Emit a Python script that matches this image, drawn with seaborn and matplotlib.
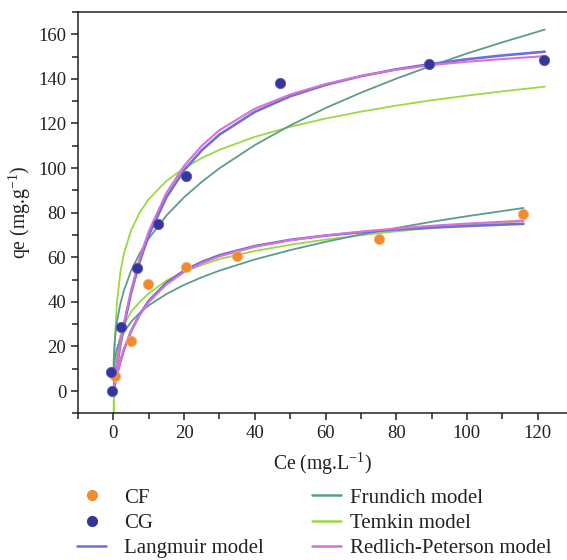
import numpy as np
import pandas as pd
import matplotlib
matplotlib.use('Agg')
import matplotlib.pyplot as plt
import seaborn as sns
from matplotlib.lines import Line2D
from matplotlib.ticker import MultipleLocator

# ---- experimental points ----
cf_ce = [0.5, 5.0, 9.7, 20.5, 34.9, 75.1, 115.9]
cf_qe = [6.9, 22.3, 48.0, 55.7, 60.7, 68.2, 79.4]
cg_ce = [-0.45, -0.6, 2.1, 6.7, 12.6, 20.5, 47.2, 89.3, 121.8]
cg_qe = [0.0, 8.6, 28.6, 55.3, 74.8, 96.4, 138.1, 146.6, 148.4]

# ---- model curves ----
cg_lr_ce = [0, 0.1, 0.25, 0.5, 1, 2, 3, 5, 7.5, 10, 15, 20, 25, 30, 40, 50, 60, 70, 80, 90, 100, 110, 122]
cg_lang = [0, 1.2, 2.9, 5.7, 11.1, 20.8, 29.4, 43.9, 58.3, 69.8, 86.9, 99.0, 108.0, 115.0, 125.2, 132.2,
           137.3, 141.2, 144.3, 146.7, 148.8, 150.5, 152.2]
cg_rp = [0, 1.3, 3.2, 6.2, 11.8, 21.8, 30.6, 45.3, 60.0, 71.6, 88.9, 101.0, 110.0, 117.0, 126.6, 133.0,
         137.7, 141.3, 144.1, 146.2, 147.7, 148.9, 150.2]
cg_fr_ce = [0.02, 0.1, 0.25, 0.5, 1, 2, 3, 5, 7.5, 10, 15, 20, 25, 30, 40, 50, 60, 70, 80, 90, 100, 110, 122]
cg_fr = [8.0, 14.0, 19.2, 24.3, 30.9, 39.3, 45.1, 53.8, 61.9, 68.4, 78.7, 86.9, 93.8, 99.9, 110.3, 119.1,
         126.9, 133.8, 140.1, 145.9, 151.4, 156.4, 162.1]
cg_te_ce = [0.086, 0.1, 0.15, 0.25, 0.5, 1, 2, 3, 5, 7.5, 10, 15, 20, 25, 30, 40, 50, 60, 70, 80, 90, 100, 110, 122]
cg_te = [-10.0, -7.0, 1.2, 11.5, 25.5, 39.5, 53.5, 61.7, 72.0, 80.2, 86.0, 94.2, 100.0, 104.5, 108.2, 114.0,
         118.5, 122.2, 125.3, 128.0, 130.4, 132.5, 134.4, 136.5]

cf_lr_ce = [0, 0.1, 0.25, 0.5, 1, 2, 3, 5, 7.5, 10, 15, 20, 25, 30, 40, 50, 60, 70, 80, 90, 100, 116]
cf_lang = [0, 0.8, 2.0, 3.8, 7.3, 13.4, 18.5, 26.8, 34.5, 40.4, 48.5, 54.0, 57.9, 60.9, 65.0, 67.8, 69.7,
           71.2, 72.4, 73.3, 74.0, 75.0]
cf_rp = [0, 0.9, 2.2, 4.2, 7.8, 13.9, 18.9, 26.8, 34.2, 39.8, 47.8, 53.3, 57.3, 60.4, 64.7, 67.6, 69.8,
         71.5, 72.9, 74.1, 75.1, 76.4]
cf_fr_ce = [0.02, 0.1, 0.25, 0.5, 1, 2, 3, 5, 7.5, 10, 15, 20, 25, 30, 40, 50, 60, 70, 80, 90, 100, 116]
cf_fr = [5.6, 9.2, 12.2, 15.2, 18.8, 23.3, 26.4, 31.0, 35.1, 38.4, 43.5, 47.6, 51.0, 54.0, 59.0, 63.2,
         66.9, 70.2, 73.1, 75.9, 78.4, 82.1]
cf_te_ce = [0.1, 0.15, 0.25, 0.5, 1, 2, 3, 5, 7.5, 10, 15, 20, 25, 30, 40, 50, 60, 70, 80, 90, 100, 116]
cf_te = [-10.0, -5.0, 0.5, 9.0, 17.5, 25.0, 29.5, 35.5, 40.0, 43.8, 49.5, 53.5, 56.5, 59.2, 62.8, 65.6,
         67.9, 69.9, 71.6, 73.1, 74.5, 76.2]

xticks = [0, 20, 40, 60, 80, 100, 120]
yticks = [0, 20, 40, 60, 80, 100, 120, 140, 160]

c_cf = '#f28a2e'
c_cg = '#35359a'
c_lang = '#6f6fd8'
c_rp = '#d872d8'
c_fr = '#5f9a8e'
c_te = '#9ad944'

sns.set_style('ticks')
plt.rcParams['font.family'] = ['Liberation Serif', 'DejaVu Serif']
plt.rcParams['mathtext.default'] = 'regular'

fig = plt.figure(figsize=(5.67, 5.60), dpi=100)
ax = fig.add_axes([78 / 567, (560 - 413.3) / 560, 1 - 78 / 567, (413.3 - 12) / 560])

def curve(ce, qe, color, lw):
    sns.lineplot(x=ce, y=qe, color=color, lw=lw, ax=ax, sort=False, estimator=None)

curve(cg_te_ce, cg_te, c_te, 1.3)
curve(cf_te_ce, cf_te, c_te, 1.3)
curve(cg_fr_ce, cg_fr, c_fr, 1.3)
curve(cf_fr_ce, cf_fr, c_fr, 1.3)
curve(cg_lr_ce, cg_lang, c_lang, 1.9)
curve(cf_lr_ce, cf_lang, c_lang, 1.9)
curve(cg_lr_ce, cg_rp, c_rp, 1.5)
curve(cf_lr_ce, cf_rp, c_rp, 1.5)

sns.scatterplot(x=cf_ce, y=cf_qe, color=c_cf, s=55, edgecolor='#f6b070', linewidth=0.6, ax=ax, zorder=5)
sns.scatterplot(x=cg_ce, y=cg_qe, color=c_cg, s=55, edgecolor='#5a5ac0', linewidth=0.6, ax=ax, zorder=5)

ax.set_xlim(-10, 128.3)
ax.set_ylim(-10, 170)
ax.set_xticks(xticks)
ax.set_yticks(yticks)
ax.xaxis.set_minor_locator(MultipleLocator(10))
ax.yaxis.set_minor_locator(MultipleLocator(10))
ax.tick_params(which='major', direction='out', length=5, width=1.1, labelsize=13.5, colors='#222222',
               labelcolor='#222222')
ax.tick_params(which='minor', direction='out', length=4, width=1.1, colors='#222222')
ax.spines['right'].set_visible(False)
for s in ['left', 'bottom', 'top']:
    ax.spines[s].set_linewidth(1.1)
    ax.spines[s].set_color('#222222')
ax.set_xlabel('Ce (mg.L$^{-1}$)', fontsize=14.2, color='#222222', labelpad=6)
ax.set_ylabel('qe (mg.g$^{-1}$)', fontsize=14.2, color='#222222', labelpad=4)

h1 = [Line2D([], [], ls='none', marker='o', color=c_cf, markersize=7),
      Line2D([], [], ls='none', marker='o', color=c_cg, markersize=7),
      Line2D([], [], color=c_lang, lw=1.8)]
l1 = ['CF', 'CG', 'Langmuir model']
h2 = [Line2D([], [], color=c_fr, lw=1.8),
      Line2D([], [], color=c_te, lw=1.8),
      Line2D([], [], color=c_rp, lw=1.8)]
l2 = ['Frundich model', 'Temkin model', 'Redlich-Peterson model']

leg1 = fig.legend(h1, l1, loc='upper left', bbox_to_anchor=(77 / 567, 1 - 488 / 560), frameon=False,
                  fontsize=15, handlelength=1.4, handletextpad=0.85, labelspacing=0.27, borderpad=0,
                  borderaxespad=0)
leg2 = fig.legend(h2, l2, loc='upper left', bbox_to_anchor=(312 / 567, 1 - 488 / 560), frameon=False,
                  fontsize=15, handlelength=1.4, handletextpad=0.4, labelspacing=0.27, borderpad=0,
                  borderaxespad=0)
for lg in (leg1, leg2):
    for t in lg.get_texts():
        t.set_color('#222222')

fig.savefig('out.png', dpi=100)
